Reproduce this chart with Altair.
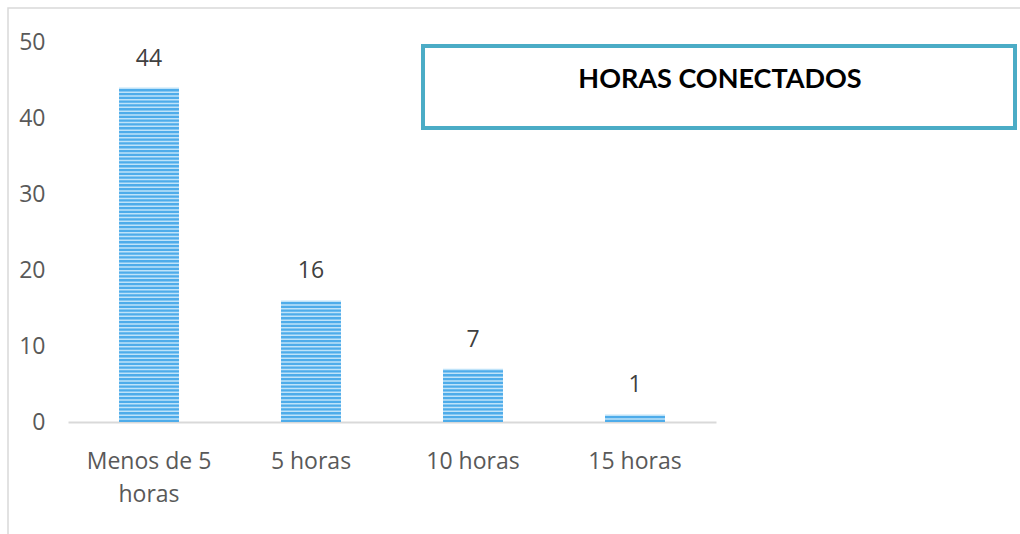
import altair as alt
import pandas as pd

categories = ["Menos de 5 horas", "5 horas", "10 horas", "15 horas"]
values = [44, 16, 7, 1]
y_ticks = [0, 10, 20, 30, 40, 50]
title_text = "HORAS CONECTADOS"

df = pd.DataFrame({"cat": categories, "val": values})

FONT = "Open Sans"
LABEL_COLOR = "#595959"

x_enc = alt.X(
    "cat:N",
    sort=categories,
    scale=alt.Scale(paddingInner=0.63, paddingOuter=0.315),
    axis=alt.Axis(
        title=None, labelAngle=0, ticks=False, domainColor="#d9d9d9", domainWidth=2,
        labelFont=FONT, labelFontSize=23, labelColor=LABEL_COLOR, labelPadding=28,
        labelLineHeight=33,
        labelExpr="datum.label == 'Menos de 5 horas' ? ['Menos de 5', 'horas'] : datum.label",
    ),
)
y_scale = alt.Scale(domain=[0, 50], nice=False)
y_enc = alt.Y(
    "val:Q",
    scale=y_scale,
    axis=alt.Axis(
        title=None, values=y_ticks, grid=False, domain=False, ticks=False,
        labelFont=FONT, labelFontSize=23, labelColor=LABEL_COLOR, labelPadding=23,
    ),
)

base = alt.Chart(df)

bars = base.mark_bar(color="#bfe3f9").encode(x=x_enc, y=y_enc)

stripes = (
    base.transform_calculate(s="sequence(0, datum.val, 0.5)")
    .transform_flatten(["s"])
    .transform_calculate(s2="min(datum.s + 0.3, datum.val)")
    .mark_bar(color="#4eacea")
    .encode(
        x=alt.X("cat:N", sort=categories),
        y=alt.Y("s:Q", scale=y_scale),
        y2="s2:Q",
    )
)

labels = base.mark_text(
    font=FONT, fontSize=23, color="#404040", dy=-17, baseline="bottom"
).encode(x=alt.X("cat:N", sort=categories), y=alt.Y("val:Q", scale=y_scale), text="val:Q")

box_df = pd.DataFrame({"t": [title_text]})
box = alt.Chart(box_df).mark_rect(
    fill="white", stroke="#4bacc6", strokeWidth=4
).encode(x=alt.value(355), x2=alt.value(947), y=alt.value(4), y2=alt.value(86))

box_text = alt.Chart(box_df).mark_text(
    font="Lato", fontSize=27, fontWeight="bold", color="black"
).encode(x=alt.value(652), y=alt.value(38), text="t:N")

frame = alt.Chart(box_df).mark_rect(
    fill=None, stroke="#d9d9d9", strokeWidth=1.5
).encode(x=alt.value(-60), x2=alt.value(990), y=alt.value(-34), y2=alt.value(520))

chart = alt.layer(frame, bars, stripes, labels, box, box_text).properties(
    width=648, height=380,
    autosize=alt.AutoSizeParams(type="none"),
    padding={"left": 68, "top": 42, "right": 304, "bottom": 112},
    background="white",
).configure_view(stroke=None)

chart.save("out.html", embed_options={"renderer": "svg", "actions": False})
